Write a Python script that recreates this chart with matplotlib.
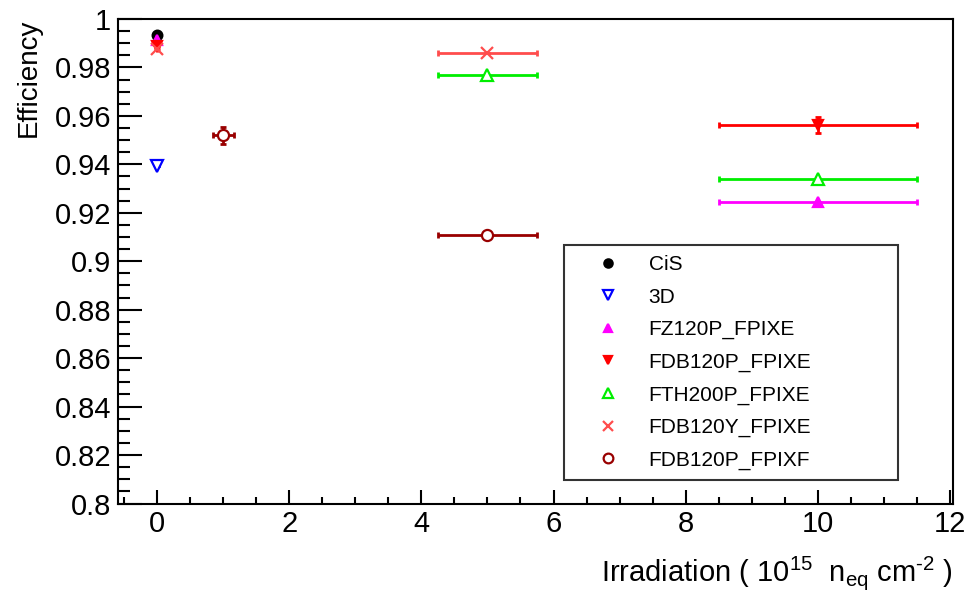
import matplotlib
matplotlib.use("Agg")
import matplotlib.pyplot as plt
from matplotlib.lines import Line2D
from matplotlib.ticker import MultipleLocator, FuncFormatter
from matplotlib import font_manager

names = {f.name for f in font_manager.fontManager.ttflist}
SANS = "Liberation Sans" if "Liberation Sans" in names else "DejaVu Sans"

plt.rcParams['font.family'] = [SANS, 'DejaVu Sans']
plt.rcParams['mathtext.default'] = 'regular'

# ---- data ----
series_names = ["CiS", "3D", "FZ120P_FPIXE", "FDB120P_FPIXE", "FTH200P_FPIXE",
                "FDB120Y_FPIXE", "FDB120P_FPIXF"]
cis_x = [0];        cis_y = [0.9935];         cis_xerr = [0];          cis_yerr = [0]
d3_x = [0];         d3_y = [0.9393];          d3_xerr = [0];           d3_yerr = [0]
fz_x = [0, 10];     fz_y = [0.9912, 0.9243];  fz_xerr = [0, 1.5];      fz_yerr = [0, 0]
fdbp_x = [0, 10];   fdbp_y = [0.9890, 0.9562]; fdbp_xerr = [0, 1.5];   fdbp_yerr = [0, 0.0033]
fth_x = [5, 10];    fth_y = [0.9768, 0.9338]; fth_xerr = [0.75, 1.5];  fth_yerr = [0, 0]
fdby_x = [0, 5];    fdby_y = [0.9877, 0.9860]; fdby_xerr = [0, 0.75];  fdby_yerr = [0, 0]
fpixf_x = [1, 5];   fpixf_y = [0.9520, 0.9107]; fpixf_xerr = [0.16, 0.75]; fpixf_yerr = [0.0035, 0]
x_ticks = [0, 2, 4, 6, 8, 10, 12]
y_ticks = [0.8, 0.82, 0.84, 0.86, 0.88, 0.9, 0.92, 0.94, 0.96, 0.98, 1.0]

series = [
    (cis_x, cis_y, cis_xerr, cis_yerr, dict(marker='o', color='black', mfc='black', ms=7)),
    (d3_x, d3_y, d3_xerr, d3_yerr, dict(marker='v', color='#0000ff', mfc='white', ms=8)),
    (fz_x, fz_y, fz_xerr, fz_yerr, dict(marker='^', color='#ff00ff', mfc='#ff00ff', ms=7)),
    (fdbp_x, fdbp_y, fdbp_xerr, fdbp_yerr, dict(marker='v', color='#ff0000', mfc='#ff0000', ms=7)),
    (fth_x, fth_y, fth_xerr, fth_yerr, dict(marker='^', color='#00ee00', mfc='white', ms=8)),
    (fdby_x, fdby_y, fdby_xerr, fdby_yerr, dict(marker='x', color='#ff4d4d', mfc='none', ms=8)),
    (fpixf_x, fpixf_y, fpixf_xerr, fpixf_yerr, dict(marker='o', color='#990000', mfc='white', ms=8)),
]

fig = plt.figure(figsize=(9.68, 5.90), dpi=100)
ax = fig.add_axes([0.1219, 0.1466, 0.8626, 0.8212])

handles = []
for (x, y, xe, ye, st), name in zip(series, series_names):
    c = st['color']
    ax.errorbar(x, y, xerr=xe, yerr=ye, fmt='none', ecolor=c, elinewidth=2,
                capsize=2.5, capthick=2, zorder=2)
    ax.plot(x, y, linestyle='none', marker=st['marker'], color=c, mfc=st['mfc'],
            mec=c, ms=st['ms'], mew=1.6, zorder=3)
    handles.append(Line2D([], [], linestyle='none', marker=st['marker'], color=c,
                          mfc=(st['mfc'] if st['mfc'] != 'white' else 'none'),
                          mec=c, ms=st['ms'] - 1, mew=1.6, label=name))

ax.set_xlim(-0.59, 12.045)
ax.set_ylim(0.8, 1.0)
ax.set_xticks(x_ticks)
ax.set_yticks(y_ticks)
ax.xaxis.set_minor_locator(MultipleLocator(0.5))
ax.yaxis.set_minor_locator(MultipleLocator(0.005))
ax.tick_params(which='both', direction='in', top=False, right=False, width=1.5)
ax.tick_params(axis='y', which='major', length=17)
ax.tick_params(axis='y', which='minor', length=8.5)
ax.tick_params(axis='x', which='major', length=10)
ax.tick_params(axis='x', which='minor', length=5)
ax.tick_params(axis='y', labelsize=21, pad=5)
ax.tick_params(axis='x', labelsize=21, pad=5)
ax.yaxis.set_major_formatter(FuncFormatter(lambda v, p: '%g' % round(v, 3)))
for sp in ax.spines.values():
    sp.set_linewidth(1.5)

ax.set_xlabel("Irradiation ( 10$^{15}$  n$_{eq}$ cm$^{\u20102}$ )", fontsize=21,
              loc='right', labelpad=11)
ax.set_ylabel("Efficiency", fontsize=20, loc='top')
ax.yaxis.set_label_coords(-0.091, 1.0)

leg = ax.legend(handles=handles, loc='upper left', bbox_to_anchor=(0.534, 0.0, 0.40, 0.5335),
                mode='expand', fontsize=15, frameon=True, fancybox=False,
                edgecolor='black', borderpad=0.5, labelspacing=0.64,
                handletextpad=0.37, handlelength=3.2, borderaxespad=0)
leg.get_frame().set_linewidth(1.5)

fig.savefig("out.png", dpi=100)
